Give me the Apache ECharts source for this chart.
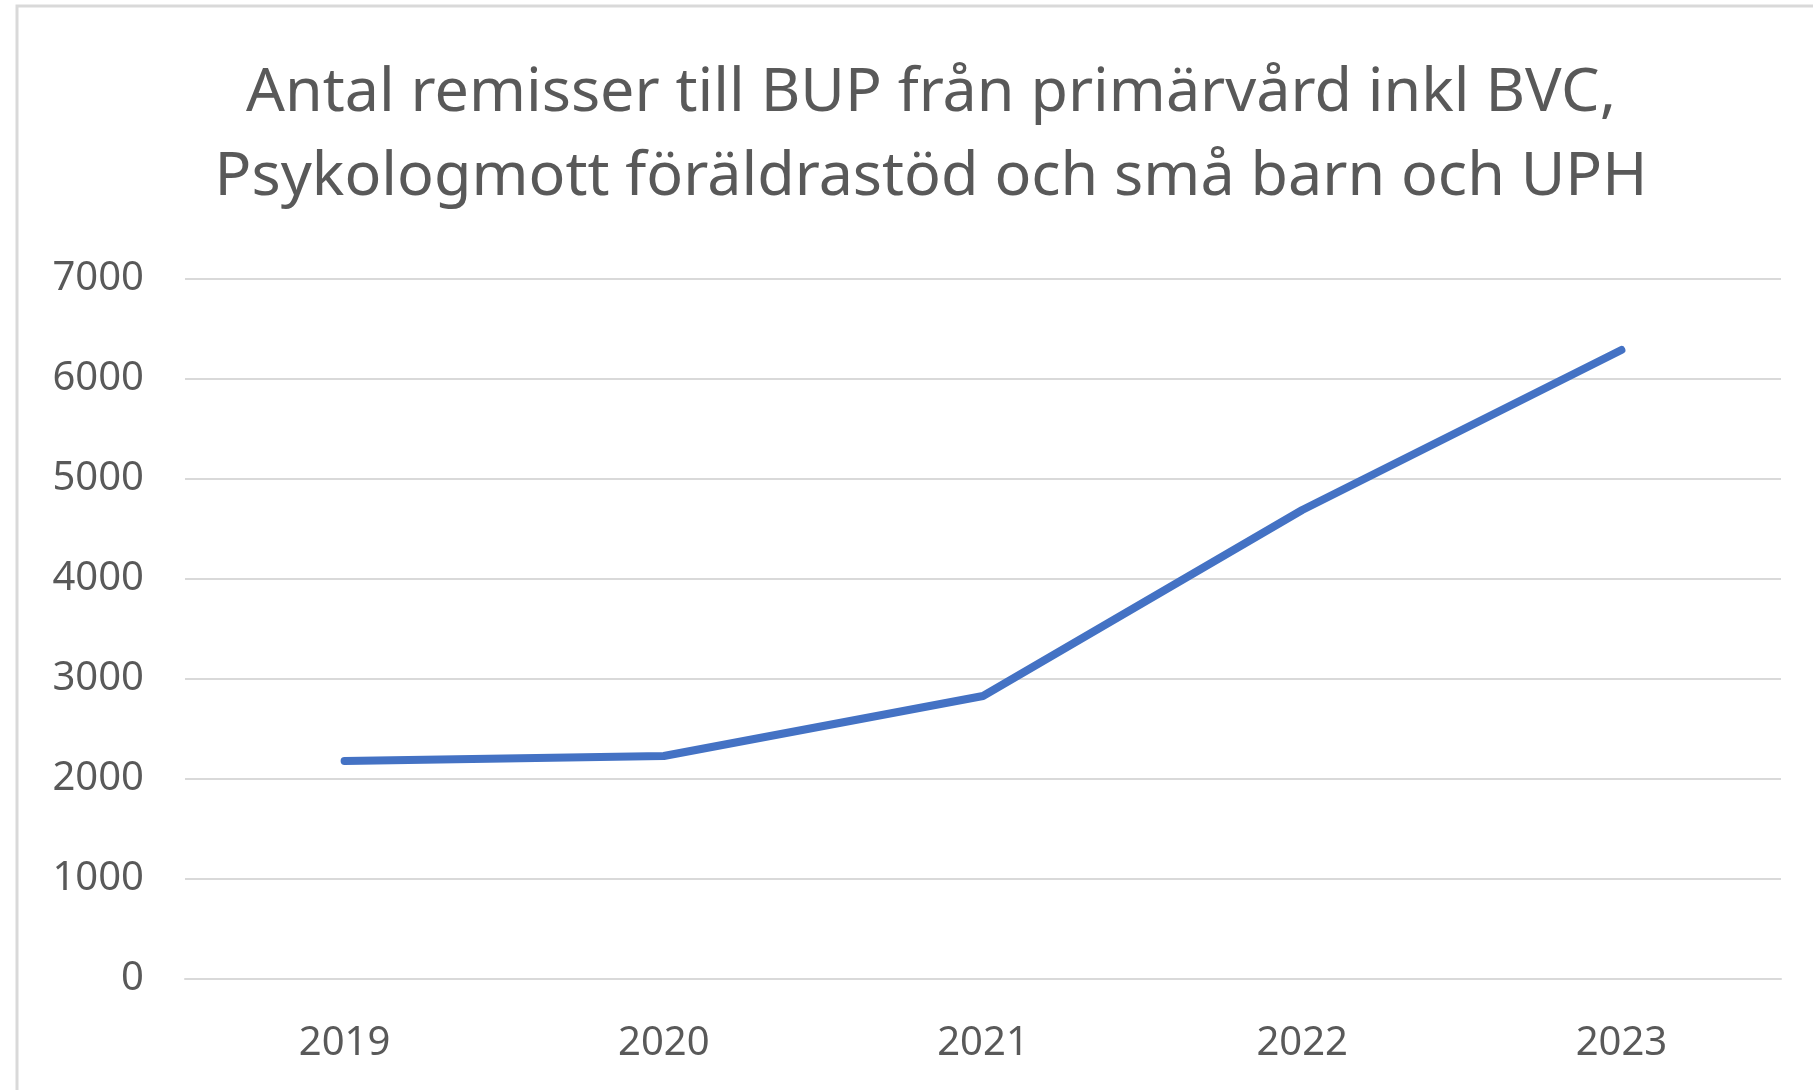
<!DOCTYPE html>
<html>
<head>
<meta charset="utf-8">
<script src="https://cdn.jsdelivr.net/npm/echarts@6/dist/echarts.min.js"></script>
<style>
  html, body { margin: 0; padding: 0; background: #fff; }
  #chart { width: 1813px; height: 1090px; }
</style>
</head>
<body>
<div id="chart"></div>
<script>
// data
const years = ['2019', '2020', '2021', '2022', '2023']
const remisser = [2180, 2230, 2830, 4690, 6290]
const yTicks = { min: 0, max: 7000, interval: 1000 }

const titleText = 'Antal remisser till BUP från primärvård inkl BVC,\nPsykologmott föräldrastöd och små barn och UPH'
const textColor = '#595959'
const gridColor = '#d9d9d9'
const fontFamily = '"Noto Sans", "Open Sans", sans-serif'

const chart = echarts.init(document.getElementById('chart'))

const option = {
  animation: false,
  backgroundColor: '#fff',
  title: {
    text: titleText,
    left: 926,
    top: 47,
    textAlign: 'center',
    textStyle: {
      color: textColor,
      fontFamily: fontFamily,
      fontWeight: 'normal',
      fontSize: 61,
      lineHeight: 84,
    },
  },
  // chart frame (outer border of the original chart box)
  graphic: [{
    type: 'rect',
    shape: { x: 17, y: 6, width: 1900, height: 1200 },
    style: { fill: 'none', stroke: gridColor, lineWidth: 3 },
    silent: true,
  }],
  grid: {
    left: 185,
    right: 32,
    top: 279,
    bottom: 111,
  },
  xAxis: {
    type: 'category',
    data: years,
    boundaryGap: true,
    axisLine: { show: true, lineStyle: { color: gridColor, width: 2 } },
    axisTick: { show: false },
    axisLabel: {
      color: textColor,
      fontFamily: fontFamily,
      fontSize: 40,
      margin: 45,
    },
  },
  yAxis: {
    type: 'value',
    min: yTicks.min,
    max: yTicks.max,
    interval: yTicks.interval,
    axisLine: { show: false },
    axisTick: { show: false },
    splitLine: { lineStyle: { color: gridColor, width: 2 } },
    axisLabel: {
      color: textColor,
      fontFamily: fontFamily,
      fontSize: 40,
      margin: 41,
      formatter: v => String(v),
    },
  },
  series: [{
    name: 'Antal remisser',
    type: 'line',
    data: remisser,
    symbol: 'none',
    lineStyle: { color: '#4472c4', width: 8, cap: 'round', join: 'round' },
  }],
}

chart.setOption(option)
</script>
</body>
</html>
